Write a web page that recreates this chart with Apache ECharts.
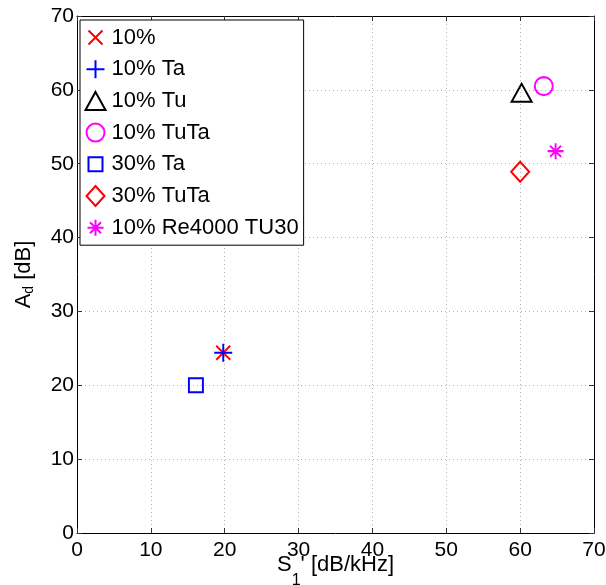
<!DOCTYPE html>
<html>
<head>
<meta charset="utf-8">
<script src="https://cdn.jsdelivr.net/npm/echarts@6/dist/echarts.min.js"></script>
<style>
html,body{margin:0;padding:0;background:#fff;}
#chart{width:606px;height:585px;}
</style>
</head>
<body>
<div id="chart"></div>
<script>
// ---- data ----
var seriesNames = ['10%', '10% Ta', '10% Tu', '10% TuTa', '30% Ta', '30% TuTa', '10% Re4000 TU30'];
var xValues = [19.8, 19.8, 60.2, 63.2, 16.1, 60.0, 64.8];   // S1' [dB/kHz]
var yValues = [24.4, 24.4, 59.6, 60.5, 20.0, 48.9, 51.7];   // Ad [dB]
var xTicks = [0, 10, 20, 30, 40, 50, 60, 70];
var yTicks = [0, 10, 20, 30, 40, 50, 60, 70];

// ---- styling ----
var colors = ['#ff0000', '#0000ff', '#000000', '#ff00ff', '#0000ff', '#ff0000', '#ff00ff'];
var pad = 'path://M0,0M22,24';
var markers = [
  pad + 'M4,5L18,19M18,5L4,19',                                  // x
  pad + 'M11,3L11,21M2,12L20,12',                                // +
  pad + 'M11,3L21,21L1,21Z',                                     // triangle
  pad + 'M2,12A9,9 0 1 1 20,12A9,9 0 1 1 2,12Z',                 // circle
  pad + 'M4,5L18,5L18,19L4,19Z',                                 // square
  pad + 'M11,2L20,12L11,22L2,12Z',                               // diamond
  pad + 'M11,4L11,20M3,12L19,12M5.5,6.5L16.5,17.5M16.5,6.5L5.5,17.5' // asterisk
];
var FONT = 'Liberation Sans, Arial, Helvetica, sans-serif';

var series = seriesNames.map(function (name, i) {
  return {
    name: name,
    type: 'scatter',
    symbol: markers[i],
    symbolSize: [22, 24],
    xAxisIndex: 0,
    yAxisIndex: 0,
    data: [[xValues[i], yValues[i]]],
    itemStyle: { color: 'none', borderColor: colors[i], borderWidth: 2, opacity: 1 },
    emphasis: { disabled: true },
    z: 3 + i
  };
});

var legendData = seriesNames.map(function (name, i) {
  return {
    name: name,
    icon: markers[i],
    itemStyle: { color: 'none', borderColor: colors[i], borderWidth: 2 }
  };
});

function mkAxis(isX, primary) {
  var ticks = isX ? xTicks : yTicks;
  return {
    type: 'value',
    position: isX ? (primary ? 'bottom' : 'top') : (primary ? 'left' : 'right'),
    min: ticks[0],
    max: ticks[ticks.length - 1],
    interval: ticks[1] - ticks[0],
    axisLine: { show: true, onZero: false, lineStyle: { color: '#000', width: 1 } },
    axisTick: { show: true, inside: true, length: 5, lineStyle: { color: '#333', width: 1 } },
    axisLabel: {
      show: primary,
      color: '#000',
      fontSize: 21,
      fontFamily: FONT,
      margin: isX ? 7 : 3
    },
    splitLine: {
      show: primary,
      lineStyle: { color: '#b4b4b4', width: 1, type: [1, 3] }
    }
  };
}

var xMain = mkAxis(true, true);
xMain.name = "{a|S}{s|1}{a|' [dB/kHz]}";
xMain.nameLocation = 'middle';
xMain.nameGap = 21;
xMain.nameMoveOverlap = false;
xMain.nameTextStyle = {
  rich: {
    a: { fontSize: 22, fontFamily: FONT, color: '#000', lineHeight: 22, verticalAlign: 'top' },
    s: { fontSize: 16, fontFamily: FONT, color: '#000', lineHeight: 16, verticalAlign: 'top', padding: [19, 0, 0, 0] }
  }
};

var yMain = mkAxis(false, true);
yMain.name = '{a|A}{s|d}{a| [dB]}';
yMain.nameLocation = 'middle';
yMain.nameGap = 42;
yMain.nameMoveOverlap = false;
yMain.nameTextStyle = {
  rich: {
    a: { fontSize: 22, fontFamily: FONT, color: '#000', lineHeight: 22, verticalAlign: 'top' },
    s: { fontSize: 14, fontFamily: FONT, color: '#000', lineHeight: 14, verticalAlign: 'top', padding: [9, 0, 0, 0] }
  }
};

var chart = echarts.init(document.getElementById('chart'), null, { renderer: 'canvas' });
chart.setOption({
  backgroundColor: '#ffffff',
  animation: false,
  grid: { left: 77, right: 12, top: 16, bottom: 52, containLabel: false, outerBoundsMode: 'none' },
  xAxis: [xMain, mkAxis(true, false)],
  yAxis: [yMain, mkAxis(false, false)],
  legend: {
    orient: 'vertical',
    left: 80,
    top: 20,
    itemWidth: 22,
    itemHeight: 24,
    itemGap: 2.7,
    padding: [3, 5, 3, 2],
    backgroundColor: '#ffffff',
    borderColor: '#000',
    borderWidth: 1,
    selectedMode: false,
    textStyle: { fontSize: 22, fontFamily: FONT, color: '#000', lineHeight: 24 },
    data: legendData
  },
  series: series
});
</script>
</body>
</html>
